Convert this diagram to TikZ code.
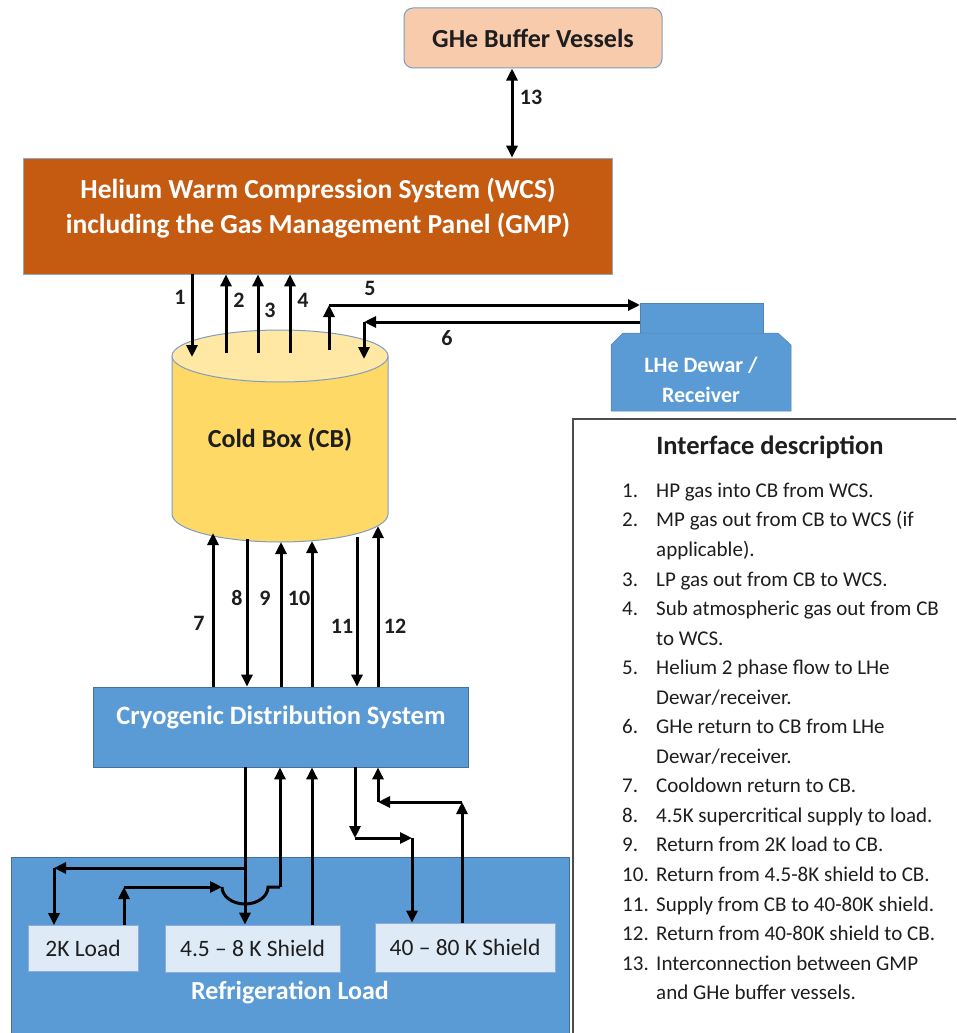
\documentclass[tikz,border=0pt]{standalone}
\usepackage{fontspec}
\setmainfont{Carlito}
\usetikzlibrary{arrows.meta}
\definecolor{wcsc}{HTML}{C55A11}
\definecolor{blu}{HTML}{5B9BD5}
\definecolor{bluedge}{HTML}{41719C}
\definecolor{peach}{HTML}{F8CBAD}
\definecolor{peachedge}{HTML}{7C9CC4}
\definecolor{gold}{HTML}{FFD966}
\definecolor{goldtop}{HTML}{FFE8A3}
\definecolor{cyledge}{HTML}{7F9DC4}
\definecolor{pale}{HTML}{DEEBF7}
\definecolor{paleedge}{HTML}{8FAADC}
\definecolor{txt}{HTML}{1E1E1E}
\begin{document}
\begin{tikzpicture}[x=1pt,y=1pt,
  arr/.style={line width=3pt,-{Triangle[length=12pt,width=11pt]}},
  dbl/.style={line width=3pt,{Triangle[length=12pt,width=11pt]}-{Triangle[length=12pt,width=11pt]}},
  seg/.style={line width=3pt},
  lbl/.style={font=\bfseries\fontsize{22}{22}\selectfont,text=txt,inner sep=0pt},
  boxlbl/.style={font=\bfseries\fontsize{26.5}{32}\selectfont,inner sep=0pt,align=center},
  loadbox/.style={draw=paleedge,fill=pale,line width=0.8pt,inner sep=0pt,text=txt,font=\fontsize{23.5}{23.5}\selectfont},
  item/.style={font=\fontsize{21}{21}\selectfont,text=txt,inner sep=0pt},
]
\useasboundingbox (0,0) rectangle (956,-1033);
\clip (0,0) rectangle (956,-1033);

% ---------- GHe buffer vessels ----------
\node[draw=peachedge,fill=peach,rounded corners=9pt,line width=1pt,minimum width=258pt,minimum height=60pt,
      boxlbl,text=txt,font=\bfseries\fontsize{26}{26}\selectfont] (ghe) at (533,-38) {GHe Buffer Vessels};

% ---------- WCS ----------
\node[draw=bluedge!60,fill=wcsc,line width=0.8pt,minimum width=589pt,minimum height=116pt,inner sep=0pt] (wcs) at (317.5,-216) {};
\node[boxlbl,text=white,font=\bfseries\fontsize{27.5}{35}\selectfont] (wcst) at (318,-208)
  {Helium Warm Compression System (WCS)\\including the Gas Management Panel (GMP)};

\draw[dbl] (ghe.south -| 512,0) -- (wcs.north -| 512,0);
\node[lbl] (l13) at (531,-97) {13};

% ---------- Cold box cylinder ----------
\draw[draw=cyledge,fill=gold,line width=1pt] (172,-356) -- (172,-514) arc[start angle=180,end angle=360,x radius=108pt,y radius=28pt] -- (388,-356);
\draw[draw=cyledge,fill=goldtop,line width=1pt] (280,-356) ellipse[x radius=108pt,y radius=26pt];
\node[boxlbl,text=txt,font=\bfseries\fontsize{26}{26}\selectfont] (cb) at (280,-440) {Cold Box (CB)};

% top connection points
\coordinate (t1) at (192,-357);
\coordinate (t2) at (226,-353);
\coordinate (t3) at (258,-353);
\coordinate (t4) at (290,-353);
\coordinate (t5) at (329,-350);
\coordinate (t6) at (364,-359);
\coordinate (c5) at (329,-305);
\coordinate (c6) at (364,-322);

\draw[arr] (wcs.south -| t1) -- (t1);
\draw[arr] (t2) -- (wcs.south -| t2);
\draw[arr] (t3) -- (wcs.south -| t3);
\draw[arr] (t4) -- (wcs.south -| t4);
\node[lbl] (l1) at (180,-297) {1};
\node[lbl] (l2) at (239,-300) {2};
\node[lbl] (l3) at (270,-310) {3};
\node[lbl] (l4) at (303,-300) {4};

% ---------- LHe Dewar ----------
\fill[blu] (640,-303) rectangle (763,-333);
\draw[blu!85!black,line width=0.5pt] (640,-303) rectangle (763,-333);
\draw[fill=blu,draw=blu!85!black,line width=0.5pt] (611,-345) -- (623,-333) -- (778,-333) -- (791,-345) -- (791,-411) -- (611,-411) -- cycle;
\node[inner sep=0pt,text=white,align=center,font=\bfseries\fontsize{22}{30}\selectfont] (dewar) at (701,-380) {LHe Dewar /\\Receiver};
\coordinate (d5) at (640,-305);
\coordinate (d6) at (640,-322);

\draw[arr] (t5) -- (c5);
\draw[arr] (c5) -- (d5);
\draw[arr] (d6) -- (c6);
\draw[arr] (c6) -- (t6);
\node[lbl] (l5) at (370,-288) {5};
\node[lbl] (l6) at (447,-338) {6};

% ---------- Cryogenic distribution system ----------
\node[draw=bluedge,fill=blu,line width=0.8pt,minimum width=375pt,minimum height=80pt,inner sep=0pt] (cds) at (280.5,-727) {};
\node[boxlbl,text=white] (cdst) at (281,-717) {Cryogenic Distribution System};

% bottom of cold box points
\coordinate (b7) at (213,-533);
\coordinate (b8) at (247,-539);
\coordinate (b9) at (281,-542);
\coordinate (b10) at (312,-541);
\coordinate (b11) at (357,-537);
\coordinate (b12) at (378,-526);

\draw[arr] (cds.north -| b7) -- (b7);
\draw[arr] (b8) -- (cds.north -| b8);
\draw[arr] (cds.north -| b9) -- (b9);
\draw[arr] (cds.north -| b10) -- (b10);
\draw[arr] (b11) -- (cds.north -| b11);
\draw[arr] (cds.north -| b12) -- (b12);
\node[lbl] (l7) at (199,-623) {7};
\node[lbl] (l8) at (237,-598) {8};
\node[lbl] (l9) at (265,-598) {9};
\node[lbl] (l10) at (299,-598) {10};
\node[lbl] (l11) at (342,-626) {11};
\node[lbl] (l12) at (395,-626) {12};

% ---------- Refrigeration load ----------
\node[draw=bluedge,fill=blu,line width=0.8pt,minimum width=558pt,minimum height=190pt,inner sep=0pt,anchor=north west] (rl) at (11,-857) {};
\node[boxlbl,text=white,font=\bfseries\fontsize{26}{26}\selectfont] (rlt) at (290,-993) {Refrigeration Load};

\node[loadbox,minimum width=110pt,minimum height=46pt] (k2) at (83,-948.5) {2K Load};
\node[loadbox,minimum width=175pt,minimum height=47pt] (k45) at (252.5,-948.5) {4.5 -- 8 K Shield};
\node[loadbox,minimum width=180pt,minimum height=49pt] (k40) at (465,-947.5) {40 -- 80 K Shield};

% line 8 supply and branch to 2K
\coordinate (j8) at (245,-868);
\coordinate (c8) at (54,-868);
\draw[arr] (cds.south -| j8) -- (k45.north -| j8);
\draw[arr] (j8) -- (c8);
\draw[arr] (c8) -- (k2.north -| c8);
% line 9 return from 2K with hop over line 8
\coordinate (c9a) at (124,-887);
\coordinate (c9b) at (222,-887);
\coordinate (c9c) at (280,-887);
\draw[arr] (k2.north -| c9a) -- (c9a);
\draw[arr] (c9a) -- (c9b);
\draw[seg] (c9b) arc[start angle=180,end angle=360,x radius=23pt,y radius=17pt] -- (c9c);
\draw[arr] (c9c) -- (cds.south -| c9c);
% line 10
\coordinate (c10) at (312,-900);
\draw[arr] (k45.north -| c10) -- (cds.south -| c10);
% line 11
\coordinate (c11a) at (355,-838);
\coordinate (c11b) at (412,-838);
\draw[arr] (cds.south -| c11a) -- (c11a);
\draw[arr] (c11a) -- (c11b);
\draw[arr] (c11b) -- (k40.north -| c11b);
% line 12
\coordinate (c12a) at (462,-802);
\coordinate (c12b) at (378,-802);
\draw[arr] (k40.north -| c12a) -- (c12a);
\draw[arr] (c12a) -- (c12b);
\draw[arr] (c12b) -- (cds.south -| c12b);

% ---------- Interface description ----------
\node[draw=black!70,fill=white,line width=1.5pt,minimum width=420pt,minimum height=640pt,inner sep=0pt,anchor=north west] (iface) at (572,-418) {};
\node[font=\bfseries\fontsize{26.5}{26.5}\selectfont,text=txt,inner sep=0pt] (ititle) at (770,-447) {Interface description};
\foreach \n/\t [count=\i from 0] in {
  1./HP gas into CB from WCS.,
  2./MP gas out from CB to WCS (if,
  /applicable).,
  3./LP gas out from CB to WCS.,
  4./Sub atmospheric gas out from CB,
  /to WCS.,
  5./Helium 2 phase flow to LHe,
  /Dewar\slash receiver.,
  6./GHe return to CB from LHe,
  /Dewar\slash receiver.,
  7./Cooldown return to CB.,
  8./4.5K supercritical supply to load.,
  9./Return from 2K load to CB.,
  10./Return from 4.5-8K shield to CB.,
  11./Supply from CB to 40-80K shield.,
  12./Return from 40-80K shield to CB.,
  13./Interconnection between GMP,
  /and GHe buffer vessels.}
{
  \node[item,anchor=mid west] (in\i) at (622,-495-29.55*\i) {\n};
  \node[item,anchor=mid west] (it\i) at (656,-495-29.55*\i) {\t};
}
\end{tikzpicture}
\end{document}
